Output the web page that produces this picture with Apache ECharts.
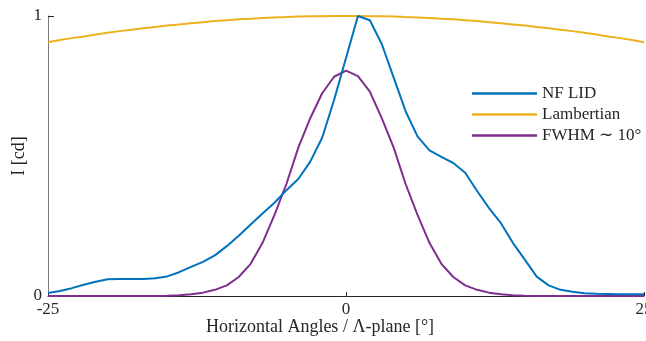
<!DOCTYPE html>
<html>
<head>
<meta charset="utf-8">
<script src="https://cdn.jsdelivr.net/npm/echarts@6/dist/echarts.min.js"></script>
<style>
  * { margin: 0; padding: 0; }
  body { background: #fff; }
  #chart { width: 646px; height: 341px; }
</style>
</head>
<body>
<div id="chart"></div>
<script>
// angles, -25..25 deg in 1 deg steps
const angles = [-25,-24,-23,-22,-21,-20,-19,-18,-17,-16,-15,-14,-13,-12,-11,-10,-9,-8,-7,-6,-5,-4,-3,-2,-1,
  0,1,2,3,4,5,6,7,8,9,10,11,12,13,14,15,16,17,18,19,20,21,22,23,24,25];
// measured NF LID
const nfLid = [0.011,0.018,0.028,0.040,0.051,0.060,0.061,0.061,0.061,0.063,0.070,0.085,0.104,0.122,0.145,0.178,
  0.215,0.255,0.295,0.333,0.378,0.418,0.480,0.565,0.700,0.850,1.000,0.985,0.900,0.780,0.660,0.570,0.520,
  0.497,0.475,0.440,0.375,0.314,0.260,0.190,0.130,0.069,0.038,0.022,0.015,0.010,0.008,0.007,0.006,0.006,0.006];
// lambertian reference
const lambert = [0.906,0.914,0.921,0.927,0.934,0.940,0.946,0.951,0.956,0.961,0.966,0.970,0.974,0.978,0.982,
  0.985,0.988,0.990,0.993,0.995,0.996,0.998,0.999,0.999,1.000,1.000,1.000,0.999,0.999,0.998,0.996,0.995,
  0.993,0.990,0.988,0.985,0.982,0.978,0.974,0.970,0.966,0.961,0.956,0.951,0.946,0.940,0.934,0.927,0.921,0.914,0.906];
// FWHM ~ 10 deg
const fwhm = [0,0,0,0,0,0,0,0,0,0,0.001,0.003,0.006,0.012,0.022,0.038,0.068,0.115,0.190,0.290,0.400,0.530,
  0.635,0.724,0.783,0.805,0.785,0.730,0.635,0.530,0.400,0.290,0.190,0.115,0.068,0.038,0.022,0.012,0.006,
  0.003,0.001,0,0,0,0,0,0,0,0,0,0];

const seriesNames = ['NF LID', 'Lambertian', 'FWHM \u223C 10\u00B0'];
const colors = ['#0072BD', '#EDB120', '#7E2F8E'];
const font = 'Liberation Serif, Times New Roman, serif';

function pairs(ys) {
  return angles.map((a, i) => [a, ys[i]]);
}

const chart = echarts.init(document.getElementById('chart'), null, { renderer: 'canvas' });
chart.setOption({
  animation: false,
  color: colors,
  grid: { left: 48, right: 2, top: 16, bottom: 45, containLabel: false, outerBoundsMode: 'none' },
  legend: {
    left: 472, top: 85,
    padding: 0,
    orient: 'vertical',
    icon: 'rect',
    itemWidth: 65, itemHeight: 2.5,
    itemGap: 4,
    data: seriesNames,
    textStyle: { fontFamily: font, fontSize: 17, color: '#262626' }
  },
  xAxis: {
    type: 'value', min: -25, max: 25, interval: 25,
    name: 'Horizontal Angles / \u039B-plane [\u00B0]',
    nameLocation: 'middle', nameGap: 22, nameMoveOverlap: false,
    nameTextStyle: { fontFamily: font, fontSize: 18, color: '#262626', padding: [0, 52, 0, 0] },
    axisLine: { lineStyle: { color: '#262626', width: 1 } },
    axisTick: { inside: true, length: 4, lineStyle: { color: '#262626' } },
    axisLabel: { fontFamily: font, fontSize: 17, color: '#262626', margin: 5 },
    splitLine: { show: false }
  },
  yAxis: {
    type: 'value', min: 0, max: 1, interval: 1,
    name: 'I [cd]',
    nameLocation: 'middle', nameGap: 20, nameMoveOverlap: false,
    nameTextStyle: { fontFamily: font, fontSize: 18, color: '#262626' },
    axisLine: { show: true, onZero: false, lineStyle: { color: '#7a7a7a', width: 1 } },
    axisTick: { show: true, inside: true, length: 6, lineStyle: { color: '#262626' } },
    axisLabel: { fontFamily: font, fontSize: 17, color: '#262626', margin: 6 },
    splitLine: { show: false }
  },
  series: [
    { name: seriesNames[0], type: 'line', data: pairs(nfLid), showSymbol: false, lineStyle: { width: 2 }, z: 3 },
    { name: seriesNames[1], type: 'line', data: pairs(lambert), showSymbol: false, lineStyle: { width: 2 }, z: 2 },
    { name: seriesNames[2], type: 'line', data: pairs(fwhm), showSymbol: false, lineStyle: { width: 2 }, z: 2 }
  ]
});
</script>
</body>
</html>
